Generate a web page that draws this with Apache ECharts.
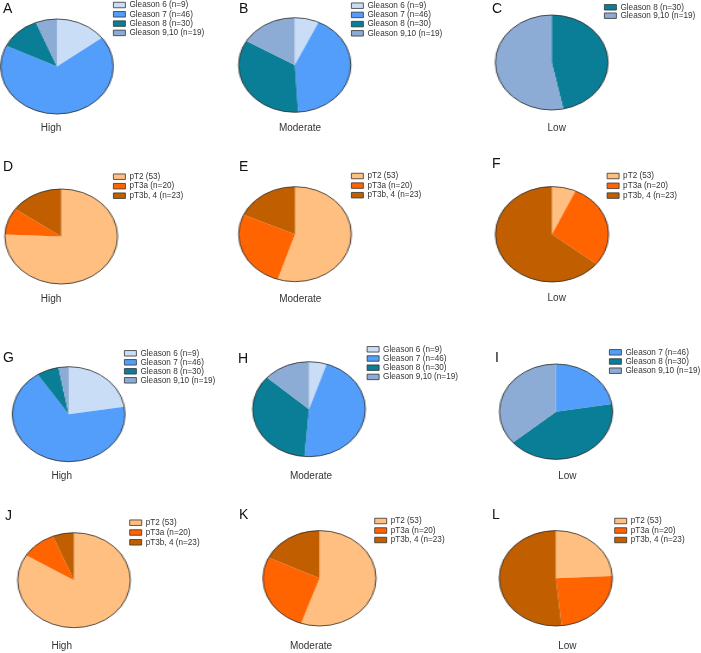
<!DOCTYPE html>
<html><head><meta charset="utf-8">
<script src="https://cdn.jsdelivr.net/npm/echarts@6/dist/echarts.min.js"></script>
<style>
html,body{margin:0;padding:0;background:#fff;}
#wrap{position:relative;width:701px;height:653px;overflow:hidden;}
#pies{position:absolute;left:0;top:0;height:653px;transform-origin:0 0;}
#texts{position:absolute;left:0;top:0;width:701px;height:653px;}
</style></head>
<body><div id="wrap"><div id="pies"></div><div id="texts"></div></div>
<script>
// ---------- DATA ----------
const gleasonCategories = ['Gleason 6 (n=9)', 'Gleason 7 (n=46)', 'Gleason 8 (n=30)', 'Gleason 9,10 (n=19)'];
const stageCategories = ['pT2 (53)', 'pT3a (n=20)', 'pT3b, 4 (n=23)'];
const gleasonLowCCategories = ['Gleason 8 (n=30)', 'Gleason 9,10 (n=19)'];
const gleasonLowICategories = ['Gleason 7 (n=46)', 'Gleason 8 (n=30)', 'Gleason 9,10 (n=19)'];
const groupLabels = ['High', 'Moderate', 'Low'];
const panelLetters = ['A','B','C','D','E','F','G','H','I','J','K','L'];

// slice shares (%)
const valuesA = [14.7, 67.5, 11.7, 6.1];
const valuesB = [7.0, 42.0, 34.5, 16.5];
const valuesC = [46.7, 53.3];
const valuesD = [75.6, 9.1, 15.2];
const valuesE = [55.0, 26.7, 18.3];
const valuesF = [6.8, 28.9, 64.3];
const valuesG = [22.5, 68.2, 6.4, 2.9];
const valuesH = [5.1, 46.2, 35.3, 13.4];
const valuesI = [22.4, 41.4, 36.2];
const valuesJ = [83.8, 10.1, 6.1];
const valuesK = [55.3, 26.9, 17.8];
const valuesL = [24.2, 24.1, 51.6];

// ---------- STYLE / LAYOUT ----------
const colorMap = {
  'Gleason 6 (n=9)': '#C9DDF7',
  'Gleason 7 (n=46)': '#529EFA',
  'Gleason 8 (n=30)': '#0A7E97',
  'Gleason 9,10 (n=19)': '#8CABD5',
  'pT2 (53)': '#FFBF80',
  'pT3a (n=20)': '#FF6400',
  'pT3b, 4 (n=23)': '#C15F00'
};
const SX = 1.186; // horizontal stretch of the pies (ellipses)

const panels = [
  {cats: gleasonCategories, vals: valuesA, cx: 57,    cy: 66.5,  ry: 47.5, legX: 113,   legY: 5.0,   gap: 9.3, labX: 51,    labY: 128,   letX: 3,   letY: 9.5},
  {cats: gleasonCategories, vals: valuesB, cx: 294.7, cy: 65,    ry: 47.3, legX: 351,   legY: 5.7,   gap: 9.2, labX: 300,   labY: 128.3, letX: 239, letY: 9},
  {cats: gleasonLowCCategories, vals: valuesC, cx: 551.7, cy: 62.5, ry: 47.5, legX: 604, legY: 7.3, gap: 8.4, labX: 556.7, labY: 128, letX: 492, letY: 9.5},
  {cats: stageCategories, vals: valuesD, cx: 61.2,  cy: 236.5, ry: 47.5, legX: 113,   legY: 176.7, gap: 9.5, labX: 51,    labY: 299,   letX: 3,   letY: 167},
  {cats: stageCategories, vals: valuesE, cx: 295,   cy: 234.2, ry: 47.5, legX: 351,   legY: 176,   gap: 9.6, labX: 300.3, labY: 299,   letX: 239, letY: 167},
  {cats: stageCategories, vals: valuesF, cx: 552,   cy: 234.3, ry: 47.7, legX: 606.7, legY: 176,   gap: 9.8, labX: 556.7, labY: 298,   letX: 492, letY: 164.5},
  {cats: gleasonCategories, vals: valuesG, cx: 68.7, cy: 414.2, ry: 47.5, legX: 124,   legY: 353.3, gap: 9.0, labX: 61.7,  labY: 476.7, letX: 3,   letY: 358},
  {cats: gleasonCategories, vals: valuesH, cx: 309,  cy: 409.2, ry: 47.5, legX: 366.7, legY: 349.3, gap: 9.2, labX: 311,   labY: 476.7, letX: 238, letY: 359},
  {cats: gleasonLowICategories, vals: valuesI, cx: 556, cy: 411.7, ry: 47.7, legX: 609, legY: 352.3, gap: 9.2, labX: 567.3, labY: 476.7, letX: 495, letY: 358.5},
  {cats: stageCategories, vals: valuesJ, cx: 74,    cy: 580.2, ry: 47.5, legX: 129.3, legY: 522.7, gap: 9.8, labX: 61.7,  labY: 646.7, letX: 5,   letY: 516},
  {cats: stageCategories, vals: valuesK, cx: 319.5, cy: 578.3, ry: 47.7, legX: 374.3, legY: 521,   gap: 9.5, labX: 311,   labY: 646.7, letX: 239, letY: 515},
  {cats: stageCategories, vals: valuesL, cx: 555.8, cy: 578.3, ry: 47.7, legX: 614.3, legY: 521,   gap: 9.5, labX: 567.3, labY: 646.7, letX: 492, letY: 515.5}
];

const FONT = '"Liberation Sans", Arial, Helvetica, sans-serif';

// ---------- PIES (stretched horizontally into ellipses) ----------
const pieDiv = document.getElementById('pies');
pieDiv.style.width = (701 / SX) + 'px';
pieDiv.style.transform = 'scaleX(' + SX + ')';
const pieChart = echarts.init(pieDiv, null, {renderer: 'canvas', width: 701 / SX, height: 653});
const pieSeries = [];
panels.forEach(function (p, i) {
  pieSeries.push({
    type: 'pie', name: 'panel' + panelLetters[i],
    center: [p.cx / SX, p.cy], radius: p.ry,
    startAngle: 90, clockwise: true, silent: true, animation: false,
    label: {show: false}, labelLine: {show: false},
    emphasis: {disabled: true},
    itemStyle: {borderWidth: 0},
    data: p.cats.map(function (c, k) { return {name: c, value: p.vals[k], itemStyle: {color: colorMap[c]}}; })
  });
  pieSeries.push({
    type: 'pie', name: 'outline' + panelLetters[i],
    center: [p.cx / SX, p.cy], radius: p.ry,
    silent: true, animation: false,
    label: {show: false}, labelLine: {show: false},
    emphasis: {disabled: true},
    itemStyle: {color: 'rgba(0,0,0,0)', borderColor: '#2a2a2a', borderWidth: 0.8},
    data: [{name: '', value: 1}]
  });
});
pieChart.setOption({animation: false, series: pieSeries});

// ---------- TEXTS (letters, group labels, legends) ----------
const textChart = echarts.init(document.getElementById('texts'), null, {renderer: 'canvas', width: 701, height: 653});
const allCats = gleasonCategories.concat(stageCategories);
const legends = panels.map(function (p) {
  return {
    orient: 'vertical', left: p.legX, top: p.legY - p.gap / 2, padding: 0, itemGap: 0,
    itemWidth: 12, itemHeight: 5.5, icon: 'rect', selectedMode: false,
    itemStyle: {borderColor: '#333', borderWidth: 0.8},
    textStyle: {fontSize: 8.2, color: '#333', fontFamily: FONT, lineHeight: p.gap, padding: [0, 0, 0, -1]},
    data: p.cats
  };
});
const graphics = [];
panels.forEach(function (p, i) {
  graphics.push({type: 'text', left: p.letX, top: p.letY - 8, silent: true,
    style: {text: panelLetters[i], fontSize: 14, fontFamily: FONT, fill: '#111', lineHeight: 16}});
  graphics.push({type: 'text', x: p.labX, y: p.labY, silent: true,
    style: {text: groupLabels[i % 3], fontSize: 10, fontFamily: FONT, fill: '#333', align: 'center', verticalAlign: 'middle'}});
});
textChart.setOption({
  animation: false,
  legend: legends,
  graphic: graphics,
  series: [{
    type: 'pie', name: 'legendSource', center: [-200, -200], radius: 1, silent: true,
    label: {show: false}, labelLine: {show: false},
    data: allCats.map(function (c) { return {name: c, value: 1, itemStyle: {color: colorMap[c]}}; })
  }]
});
</script>
</body></html>
